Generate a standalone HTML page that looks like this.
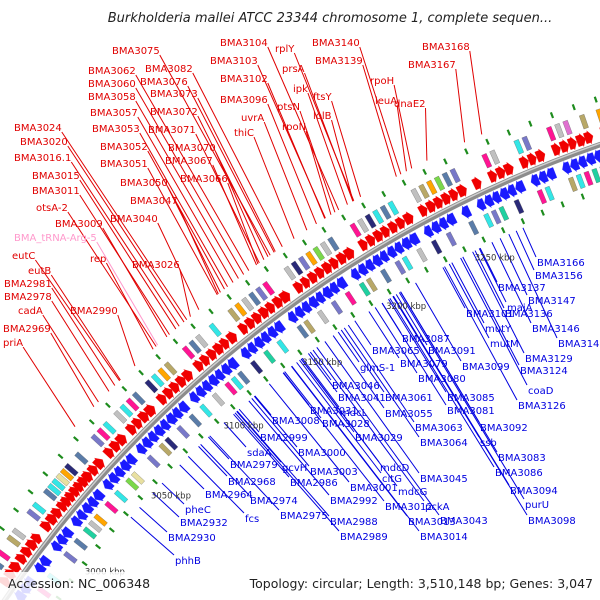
<!DOCTYPE html>
<html><head><meta charset="utf-8"><style>
html,body{margin:0;padding:0;background:#fff;overflow:hidden;}
svg{display:block;font-family:"DejaVu Sans","Liberation Sans",sans-serif;}
</style></head><body>
<svg id="map" width="600" height="600" viewBox="0 0 600 600" xmlns="http://www.w3.org/2000/svg">
<g id="lines"></g>
<g id="features"></g>
<g id="labels"></g>
<text x="330" y="22" text-anchor="middle" font-size="13" font-style="italic" fill="#222">Burkholderia mallei ATCC 23344 chromosome 1, complete sequen...</text>
<rect x="0" y="572" width="160" height="28" fill="#fff" opacity="0.85"/>
<text x="8" y="588" font-size="12.5" fill="#222">Accession: NC_006348</text>
<rect x="255" y="572" width="345" height="28" fill="#fff" opacity="0.85"/>
<text x="593" y="588" text-anchor="end" font-size="12.5" fill="#222">Topology: circular; Length: 3,510,148 bp; Genes: 3,047</text>
</svg>
<script>
// ---- data ----
const redStart = [2966,2970,2974,2979,2983,2987,2991,2998,3002,3006,3010,3013,3016,3019,3022,3025,3028,3032,3036,3043,3047,3051,3058,3062,3066,3070,3078,3082,3086,3090,3094,3101,3105,3109,3113,3117,3121,3128,3132,3136,3140,3144,3148,3152,3160,3164,3168,3172,3176,3180,3184,3188,3196,3200,3204,3208,3212,3216,3220,3228,3232,3236,3240,3244,3248,3256,3264,3268,3272,3280,3284,3288,3296,3300,3304,3308,3312,3320,3324];
const redLen   = [3.8,4.1,4.4,3.9,4.0,4.2,3.7,3.9,4.3,3.8,3.6,3.5,3.4,3.6,3.5,3.7,4.0,3.9,4.2,3.8,4.1,4.5,3.9,3.8,4.2,4.6,3.8,4.0,3.9,4.1,4.3,3.9,3.8,4.0,4.2,3.7,4.4,3.8,4.0,3.9,4.1,3.8,4.2,4.6,3.9,3.8,4.0,3.9,4.1,3.8,4.2,4.5,3.8,3.9,4.1,3.8,4.0,3.9,4.4,3.8,4.1,3.9,4.0,3.8,4.3,3.9,3.8,4.0,4.2,3.9,3.8,4.1,3.9,4.0,3.8,4.2,3.9,3.8,4.1];
const blueStart = [2964,2968,2972,2980,2984,2993,2997,3001,3008,3012,3016,3020,3024,3031,3035,3039,3043,3047,3054,3058,3062,3066,3070,3074,3078,3082,3089,3093,3097,3101,3105,3109,3113,3121,3125,3129,3133,3137,3141,3149,3153,3157,3161,3165,3169,3173,3177,3185,3189,3193,3197,3201,3205,3209,3213,3217,3225,3229,3233,3237,3245,3253,3257,3261,3265,3269,3273,3281,3285,3289,3297,3301,3305,3309,3313,3321,3325];
const blueLen   = [4.0,3.8,4.1,3.9,4.2,3.8,4.0,4.3,3.9,3.8,4.1,3.9,4.4,3.8,4.0,3.9,4.1,4.2,3.8,4.0,3.9,4.1,3.8,4.2,3.9,4.3,3.8,4.0,3.9,4.1,3.8,4.0,4.4,3.9,3.8,4.1,3.9,4.0,4.3,3.8,4.0,3.9,4.1,3.8,4.2,3.9,4.4,3.8,4.0,3.9,4.1,3.8,4.0,3.9,4.2,4.5,3.8,4.0,3.9,4.3,4.1,3.8,4.0,3.9,4.1,3.8,4.4,3.9,4.0,4.2,3.8,4.0,3.9,4.1,3.8,4.0,4.2];
const cogColors = ["#33e6e6","#ff1493","#c0c0c0","#5a7ca8","#ffa500","#2a2a78","#b8a868","#7ad84a","#7878c8","#20d0a0","#e070d0","#e8e0a0"];
const outerCogPos = [2967,2971,2976,2984,2988,2999,3003,3011,3014,3017,3020,3023,3026,3033,3044,3048,3052,3059,3063,3067,3071,3079,3083,3087,3091,3102,3106,3110,3118,3129,3133,3137,3141,3145,3149,3161,3165,3169,3173,3177,3181,3185,3197,3201,3205,3209,3213,3217,3229,3233,3237,3241,3245,3249,3265,3269,3281,3285,3297,3301,3305,3313,3321];
const outerCogCol = [2,3,1,6,2,8,0,3,0,0,11,4,5,3,8,1,0,2,0,1,3,5,0,4,6,1,3,2,0,6,4,2,3,8,1,2,5,8,4,7,2,3,1,2,5,0,3,0,2,6,4,7,3,8,1,2,0,8,1,2,10,6,4];
const innerCogPos = [2965,2973,2981,2994,3002,3009,3013,3017,3025,3032,3040,3044,3055,3063,3067,3075,3083,3090,3098,3106,3110,3114,3122,3130,3138,3150,3154,3162,3170,3178,3186,3190,3198,3206,3210,3218,3226,3234,3246,3254,3258,3262,3270,3282,3286,3298,3302,3306,3310,3314,3322];
const innerCogCol = [3,1,0,8,3,9,2,4,1,0,7,11,8,6,5,8,3,0,2,1,0,3,5,9,0,3,6,2,8,1,9,6,3,8,0,2,5,8,3,0,8,9,5,1,0,6,0,1,9,0,10];
const tickKbp = [3000,3050,3100,3150,3200,3250];
const tickLabels = ["3000 kbp","3050 kbp","3100 kbp","3150 kbp","3200 kbp","3250 kbp"];
const redLabels = [
["BMA3075",112,50],["BMA3104",220,42],["rplY",275,48],["BMA3140",312,42],["BMA3168",422,46],
["BMA3062",88,70],["BMA3082",145,68],["BMA3103",210,60],["prsA",282,68],["BMA3139",315,60],["BMA3167",408,64],
["BMA3060",88,83],["BMA3076",140,81],["ipk",293,88],["ftsY",313,96],["rpoH",370,80],["BMA3058",88,96],
["BMA3073",150,93],["BMA3102",220,78],["leuA",375,100],["BMA3096",220,99],["ptsN",277,106],["lolB",313,115],
["uvrA",241,117],["rpoN",282,126],["dnaE2",394,103],["BMA3057",90,112],["BMA3072",150,111],["BMA3053",92,128],
["BMA3071",148,129],["thiC",234,132],["BMA3024",14,127],["BMA3020",20,141],["BMA3052",100,146],["BMA3070",168,147],
["BMA3016.1",14,157],["BMA3067",165,160],["BMA3051",100,163],["BMA3015",32,175],["BMA3066",180,178],["BMA3050",120,182],
["BMA3011",32,190],["BMA3047",130,200],["otsA-2",36,207],["BMA3040",110,218],["BMA3009",55,223],
["rep",90,258],["BMA3026",132,264],["eutC",12,255],["eutB",28,270],["BMA2981",4,283],["BMA2978",4,296],
["BMA2990",70,310],["cadA",18,310],["BMA2969",3,328],["priA",3,342]];
const pinkLabels = [["BMA_tRNA-Arg-5",14,237]];
const blueLabels = [
["BMA3166",537,262],["BMA3156",535,275],["BMA3137",498,287],["BMA3147",528,300],["maiA",507,307],["BMA3101",466,313],
["BMA3136",505,313],["mutY",485,328],["BMA3146",532,328],["BMA3087",402,338],["BMA3065",372,350],["BMA3091",428,350],
["mutM",490,343],["BMA3148",558,343],["glmS-1",360,367],["BMA3079",400,363],["BMA3099",462,366],["BMA3129",525,358],
["BMA3124",520,370],["BMA3080",418,378],["BMA3046",332,385],["coaD",528,390],["BMA3085",447,397],["BMA3041",338,397],
["BMA3061",385,397],["BMA3031",310,410],["mdcL",340,412],["BMA3055",385,413],["BMA3081",447,410],["BMA3126",518,405],
["BMA3008",272,420],["BMA3028",322,423],["BMA3063",415,427],["BMA3092",480,427],["BMA2999",260,437],["BMA3029",355,437],
["BMA3064",420,442],["ssb",480,442],["sdaA",247,452],["BMA3000",298,452],["BMA3083",498,457],["gcvH",282,467],
["mdcD",380,467],["BMA3045",420,478],["BMA2979",230,464],["BMA3003",310,471],["citG",382,478],["BMA3086",495,472],
["BMA2986",290,482],["BMA3001",350,487],["BMA2968",228,481],["mdcG",398,491],["BMA3094",510,490],["BMA2964",205,494],
["BMA2974",250,500],["BMA2992",330,500],["BMA3012",385,506],["pckA",425,506],["purU",525,504],["pheC",185,509],
["fcs",245,518],["BMA2975",280,515],["BMA3013",408,521],["BMA3043",440,520],["BMA3098",528,520],["BMA2988",330,521],
["BMA2932",180,522],["BMA3014",420,536],["BMA2989",340,536],["BMA2930",168,537],["phhB",175,560]];

// ---- geometry ----
const CX = 990, CY = 1271, RB = 1192;
const DEG0 = -36.3, DPK = 0.1026, K0 = 3150;
const NS = "http://www.w3.org/2000/svg";
function ang(k){ return (DEG0 + (k - K0) * DPK) * Math.PI / 180; }
function P(k, r){ const a = ang(k); return [CX + r*Math.sin(a), CY - r*Math.cos(a)]; }
function PA(a, r){ return [CX + r*Math.sin(a), CY - r*Math.cos(a)]; }
function pts(arr){ return arr.map(p => p[0].toFixed(1)+","+p[1].toFixed(1)).join(" "); }
const feat = document.getElementById("features");
const linesG = document.getElementById("lines");
const labG = document.getElementById("labels");
function mk(tag, attrs, parent){ const e = document.createElementNS(NS, tag); for (const k in attrs) e.setAttribute(k, attrs[k]); parent.appendChild(e); return e; }

// backbone
(function(){
  const a = P(2950, RB), b = P(3345, RB);
  const d = `M${a[0]},${a[1]} A${RB},${RB} 0 0 1 ${b[0]},${b[1]}`;
  const e = mk("path", {d:d, fill:"none", stroke:"#8c8c8c", "stroke-width":5.5}, feat);
  
  
  const h = mk("path", {d:d, fill:"none", stroke:"#d0d0d0", "stroke-width":1.4, transform:"translate(-0.5,-1)"}, feat);
  
  
})();

// green dots
for (let k = 2955; k < 3345; k += 10.5) {
  [1236, 1149].forEach(r => {
    const a = P(k, r - 3), b = P(k, r + 3);
    const e = mk("line", {x1:a[0], y1:a[1], x2:b[0], y2:b[1], stroke:"#1e8c1e", "stroke-width":2.2}, feat);
    
    
  });
}

// arrows
function arrow(k0, len, rIn, rOut, fwd, color, name){
  const tip = Math.min(2.0, len);
  const rM = (rIn + rOut) / 2;
  let poly;
  if (fwd) {
    const k1 = k0 + len, kb = k1 - tip;
    poly = [P(k0,rIn), P(kb,rIn), P(kb,rIn-1.5), P(k1,rM), P(kb,rOut+1.5), P(kb,rOut), P(k0,rOut)];
  } else {
    const k1 = k0 + len, kb = k0 + tip;
    poly = [P(k1,rIn), P(kb,rIn), P(kb,rIn-1.5), P(k0,rM), P(kb,rOut+1.5), P(kb,rOut), P(k1,rOut)];
  }
  const e = mk("polygon", {points:pts(poly), fill:color, stroke:color, "stroke-width":0.3}, feat);
  
  
}
redStart.forEach((k, i) => arrow(k, redLen[i], 1197, 1208, true, "#f00000", "forward-gene"));
blueStart.forEach((k, i) => arrow(k, blueLen[i], 1176, 1187, false, "#1a1aff", "reverse-gene"));

// COG boxes
function box(k, rIn, rOut, color){
  const w = 2.3;
  const poly = [P(k,rIn), P(k+w,rIn), P(k+w,rOut), P(k,rOut)];
  const e = mk("polygon", {points:pts(poly), fill:color, stroke:"#555", "stroke-width":0.3}, feat);
  
  
}
outerCogPos.forEach((k, i) => box(k, 1212, 1226, cogColors[outerCogCol[i]]));
innerCogPos.forEach((k, i) => box(k, 1157, 1171, cogColors[innerCogCol[i]]));

// ticks
tickKbp.forEach((k, i) => {
  const p = P(k, 1128);
  const t = mk("text", {x:p[0], y:p[1]+3, "text-anchor":"middle", "font-size":8.5, fill:"#333"}, feat);
  t.textContent = tickLabels[i];
  
  
});

// labels
function addLabel(l, color, side){
  const t = mk("text", {x:l[1], y:l[2]+4, "font-size":10, fill:color}, labG);
  t.textContent = l[0];
  
  
  const w = t.getComputedTextLength ? t.getComputedTextLength() : l[0].length*6.3;
  let sx, sy, ex, ey;
  if (side === "out") {
    sx = l[1] + w; sy = l[2] + 5;
    const a = Math.atan2(sx - CX, CY - sy) - 1*Math.PI/180;
    [ex, ey] = PA(a, 1245);
  } else {
    sx = l[1] - 1; sy = l[2] - 5;
    const a = Math.atan2(sx - CX, CY - sy);
    [ex, ey] = PA(a, 1143);
  }
  const ln = mk("line", {x1:sx, y1:sy, x2:ex, y2:ey, stroke:color, "stroke-width":1}, linesG);
  
  
}
redLabels.forEach(l => addLabel(l, "#e00000", "out"));
pinkLabels.forEach(l => addLabel(l, "#ff99cc", "out"));
blueLabels.forEach(l => addLabel(l, "#0000e0", "in"));
</script>
</body></html>
